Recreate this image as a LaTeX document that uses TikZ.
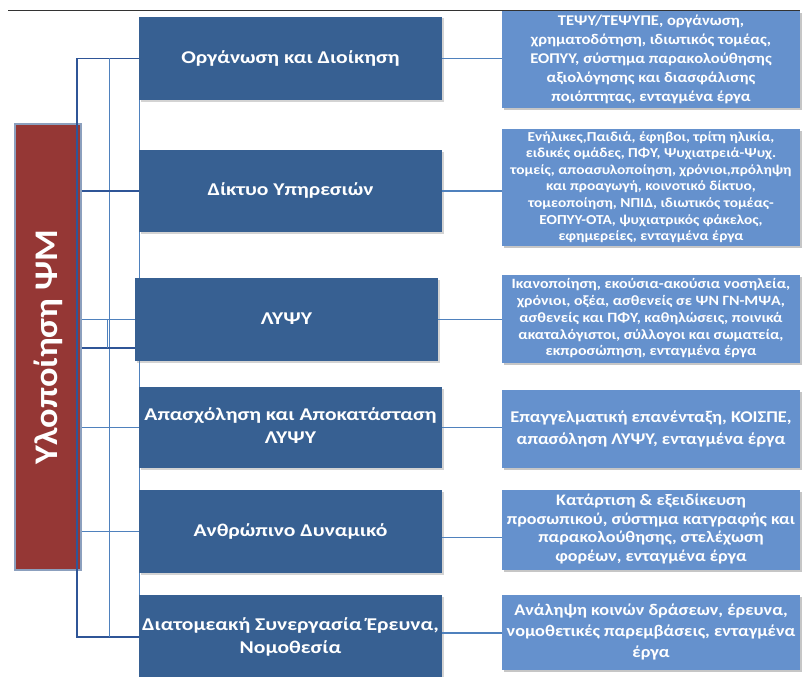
\documentclass[tikz,border=0pt]{standalone}
\usepackage{fontspec}
\usepackage{graphicx}
\setmainfont{Carlito}
\usetikzlibrary{shadows}

\definecolor{topicblue}{RGB}{55,96,146}
\definecolor{detailblue}{RGB}{101,145,205}
\definecolor{mainred}{RGB}{149,55,53}
\definecolor{redframe}{RGB}{140,160,190}
\definecolor{linkblue}{RGB}{79,129,189}
\definecolor{linkdark}{RGB}{47,85,151}

% stretched, centred lines of text
\newcommand{\widetext}[2]{\scalebox{#1}[1]{\begin{tabular}{@{}c@{}}#2\end{tabular}}}

\tikzset{
	topic/.style={fill=topicblue, text=white, inner sep=0pt,
		minimum width=303pt, font=\bfseries\fontsize{18}{23}\selectfont,
		drop shadow={shadow xshift=1.5pt, shadow yshift=-1.5pt, opacity=0.35}},
	detail/.style 2 args={fill=detailblue, text=white, inner sep=0pt,
		minimum width=298pt, font=\bfseries\fontsize{#1}{#2}\selectfont,
		drop shadow={shadow xshift=2pt, shadow yshift=-2pt, opacity=0.45}},
	mainbox/.style={fill=mainred, draw=redframe, line width=1.5pt, text=white,
		inner sep=0pt, font=\bfseries\fontsize{33}{37}\selectfont},
	outerlink/.style={draw=linkdark, line width=1.2pt},
	innerlink/.style={draw=linkblue, line width=0.8pt},
	thicklink/.style={draw=linkdark, line width=1.8pt},
	sidelink/.style={draw=linkblue, line width=1.5pt},
}

\begin{document}
\begin{tikzpicture}[x=1pt,y=-1pt]
	\useasboundingbox (0,0) rectangle (806,677);
	\path
	coordinate (barA) at (77,0)
	coordinate (barB) at (109,0)
	coordinate (barC) at (107,0)
	;
	% top rule
	\draw[line width=0.9pt, black!80] (8,10.7) -- (800,10.7);
	% line along the left edge of the topics
	\draw[innerlink] (139,100) -- (139,595);
	% topics
	\node[topic, minimum height=83pt] (org) at (290.5,58.5)
		{\widetext{1.2}{Οργάνωση και Διοίκηση}};
	\node[topic, minimum height=82pt] (net) at (290.5,191)
		{\widetext{1.2}{Δίκτυο Υπηρεσιών}};
	\node[topic, minimum height=83pt] (lypsy) at (286.5,319.5)
		{\widetext{1.2}{ΛΥΨΥ}};
	\node[topic, minimum height=81pt] (work) at (290.5,427.5)
		{\widetext{1.2}{Απασχόληση και Αποκατάσταση\\ΛΥΨΥ}};
	\node[topic, minimum height=83pt] (staff) at (290.5,531.5)
		{\widetext{1.2}{Ανθρώπινο Δυναμικό}};
	\node[topic, minimum height=84pt] (coop) at (290.5,637)
		{\widetext{1.2}{Διατομεακή Συνεργασία Έρευνα,\\Νομοθεσία}};
	% details
	\node[detail={14.8}{19}, minimum height=97pt] (orgd) at (651,59.5)
		{\widetext{1.12}{ΤΕΨΥ/ΤΕΨΥΠΕ, οργάνωση,\\χρηματοδότηση, ιδιωτικός τομέας,\\ΕΟΠΥΥ, σύστημα παρακολούθησης\\αξιολόγησης και διασφάλισης\\ποιόπτητας, ενταγμένα έργα}};
	\node[detail={13.7}{16.6}, minimum height=115pt] (netd) at (651,187.5)
		{\widetext{1.12}{Ενήλικες,Παιδιά, έφηβοι, τρίτη ηλικία,\\ειδικές ομάδες, ΠΦΥ, Ψυχιατρειά-Ψυχ.\\τομείς, αποασυλοποίηση, χρόνιοι,πρόληψη\\και προαγωγή, κοινοτικό δίκτυο,\\τομεοποίηση, ΝΠΙΔ, ιδιωτικός τομέας-\\ΕΟΠΥΥ-ΟΤΑ, ψυχιατρικός φάκελος,\\εφημερείες, ενταγμένα έργα}};
	\node[detail={14.2}{16.8}, minimum height=88pt] (lypsyd) at (651,319)
		{\widetext{1.12}{Ικανοποίηση, εκούσια-ακούσια νοσηλεία,\\χρόνιοι, οξέα, ασθενείς σε ΨΝ ΓΝ-ΜΨΑ,\\ασθενείς και ΠΦΥ, καθηλώσεις, ποινικά\\ακαταλόγιστοι, σύλλογοι και σωματεία,\\εκπροσώπηση, ενταγμένα έργα}};
	\node[detail={16.4}{22}, minimum height=78pt] (workd) at (651,429)
		{\widetext{1.12}{Επαγγελματική επανένταξη, ΚΟΙΣΠΕ,\\απασόληση ΛΥΨΥ, ενταγμένα έργα}};
	\node[detail={16.1}{18.5}, minimum height=80pt] (staffd) at (651,530)
		{\widetext{1.12}{Κατάρτιση \& εξειδίκευση\\προσωπικού, σύστημα κατγραφής και\\παρακολούθησης, στελέχωση\\φορέων, ενταγμένα έργα}};
	\node[detail={16.3}{21}, minimum height=75pt] (coopd) at (651,632.5)
		{\widetext{1.12}{Ανάληψη κοινών δράσεων, έρευνα,\\νομοθετικές παρεμβάσεις, ενταγμένα\\έργα}};
	% main box
	\node[mainbox, rotate=90, minimum width=446pt, minimum height=66pt] (main) at (48,347)
		{\raisebox{3pt}{\scalebox{1.1}[1]{Υλοποίηση ΨΜ}}};
	% left bracket
	\draw[outerlink] (org.west) -- (barA |- org.west) -- (barA |- coop.west) -- (coop.west);
	\draw[innerlink] (barB |- org.west) -- (barB |- coop.west);
	\draw[thicklink] (main.south |- net.west) -- (net.west);
	\draw[innerlink] (main.south |- lypsy.west) -- (lypsy.west);
	\draw[thicklink] ([yshift=-28.5pt]lypsy.west) coordinate (lypsylow)
		-- (main.south |- lypsylow);
	\draw[innerlink] (barC |- lypsy.west) -- (barC |- lypsylow);
	\draw[innerlink] (main.south |- work.west) -- (work.west);
	\draw[innerlink] (main.south |- staff.west) -- (staff.west);
	% topic to detail
	\draw[sidelink] (org.east) -- (org.east -| orgd.west);
	\draw[sidelink] (net.east) -- (net.east -| netd.west);
	\draw[sidelink] (lypsy.east) -- (lypsy.east -| lypsyd.west);
	\draw[sidelink] (work.east) -- (work.east -| workd.west);
	\draw[sidelink] ([yshift=-6pt]staff.east) coordinate (staffside) -- (staffside -| staffd.west);
	\draw[sidelink] ([yshift=4pt]coop.east) coordinate (coopside) -- (coopside -| coopd.west);
\end{tikzpicture}
\end{document}
